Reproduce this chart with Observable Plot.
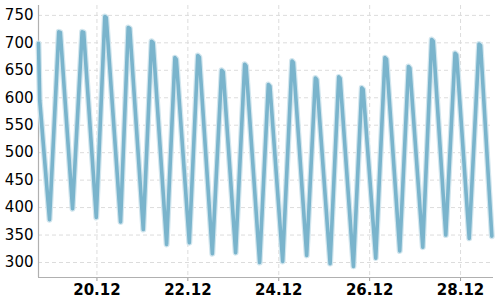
<!DOCTYPE html>
<html><head><meta charset="utf-8">
<script src="https://cdn.jsdelivr.net/npm/d3@7"></script>
<script src="https://cdn.jsdelivr.net/npm/@observablehq/plot@0.6"></script>
<style>body{margin:0;background:#fff} svg{display:block}</style>
</head><body><div id="chart"></div>
<script>
const times = [
  "2018-12-18T17:08","2018-12-18T17:47","2018-12-18T22:57",
  "2018-12-19T03:50","2018-12-19T04:40","2018-12-19T11:07",
  "2018-12-19T16:10","2018-12-19T17:00","2018-12-19T23:38",
  "2018-12-20T04:10","2018-12-20T04:55","2018-12-20T12:28",
  "2018-12-20T16:30","2018-12-20T17:20","2018-12-21T00:28",
  "2018-12-21T04:50","2018-12-21T05:40","2018-12-21T12:47",
  "2018-12-21T17:10","2018-12-21T17:55","2018-12-22T00:46",
  "2018-12-22T05:15","2018-12-22T06:05","2018-12-22T12:56",
  "2018-12-22T17:50","2018-12-22T18:40","2018-12-23T01:14",
  "2018-12-23T06:00","2018-12-23T06:45","2018-12-23T13:55",
  "2018-12-23T18:30","2018-12-23T19:20","2018-12-24T02:04",
  "2018-12-24T07:00","2018-12-24T07:45","2018-12-24T14:45",
  "2018-12-24T19:20","2018-12-24T20:05","2018-12-25T03:07",
  "2018-12-25T07:40","2018-12-25T08:25","2018-12-25T15:26",
  "2018-12-25T19:50","2018-12-25T20:35","2018-12-26T03:13",
  "2018-12-26T08:05","2018-12-26T08:55","2018-12-26T15:53",
  "2018-12-26T20:30","2018-12-26T21:15","2018-12-27T04:03",
  "2018-12-27T08:45","2018-12-27T09:35","2018-12-27T16:12",
  "2018-12-27T21:05","2018-12-27T21:55","2018-12-28T04:34",
  "2018-12-28T09:45","2018-12-28T10:35","2018-12-28T16:31"
];
const values = [
  699, 595, 378,
  720, 719, 398,
  720, 719, 382,
  748, 746, 374,
  728, 726, 360,
  703, 700, 333,
  673, 670, 336,
  677, 674, 316,
  650, 647, 318,
  661, 658, 300,
  624, 621, 302,
  667, 664, 313,
  636, 633, 298,
  638, 635, 293,
  618, 615, 308,
  673, 670, 321,
  657, 654, 328,
  706, 703, 350,
  681, 678, 344,
  698, 695, 348
];
const yTicks = [300, 350, 400, 450, 500, 550, 600, 650, 700, 750];
const xTickDates = ["2018-12-20", "2018-12-22", "2018-12-24", "2018-12-26", "2018-12-28"];
const xDomain = ["2018-12-18T17:08", "2018-12-28T17:24"];
const yDomain = [272.7, 768];

const utc = s => new Date(s + (s.length > 10 ? "Z" : "T00:00Z"));
const data = times.map((t, i) => ({date: utc(t), value: values[i]}));
const xTicks = xTickDates.map(utc);
const xDom = xDomain.map(utc);

const chart = Plot.plot({
  width: 500, height: 300,
  marginLeft: 38, marginRight: 7, marginTop: 5, marginBottom: 23,
  style: {fontFamily: "DejaVu Sans", fontSize: "15px", color: "#000", background: "#fff"},
  x: {type: "utc", domain: xDom, label: null},
  y: {domain: yDomain, label: null},
  marks: [
    Plot.ruleY(yTicks, {stroke: "#dcdcdc", strokeDasharray: "4,3"}),
    Plot.ruleX(xTicks, {stroke: "#dcdcdc", strokeDasharray: "4,3"}),
    Plot.axisY({ticks: yTicks, tickSize: 0, tickPadding: 5, fontSize: 15, fill: "#000", label: null}),
    Plot.axisX({ticks: xTicks, tickFormat: d3.utcFormat("%d.%m"), tickSize: 4, tickPadding: 3,
                fontSize: 15, fontWeight: "bold", stroke: "#999", fill: "#000", label: null}),
    Plot.ruleX([xDom[0]], {stroke: "#b0b0b0", strokeWidth: 1.2}),
    Plot.ruleY([yDomain[0]], {stroke: "#b0b0b0", strokeWidth: 1.2}),
    Plot.line(data, {x: "date", y: "value", stroke: "#d2e6ee", strokeWidth: 6, strokeLinejoin: "round"}),
    Plot.line(data, {x: "date", y: "value", stroke: "#7ab4cc", strokeWidth: 3.6, strokeLinejoin: "round"})
  ]
});
document.getElementById("chart").appendChild(chart);
</script>
</body></html>
